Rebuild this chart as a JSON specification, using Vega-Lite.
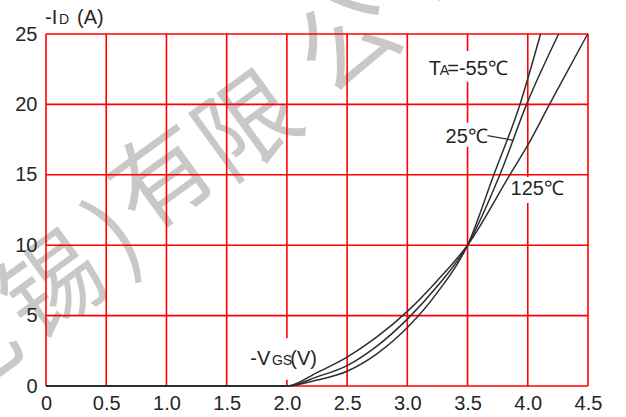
{
  "$schema": "https://vega.github.io/schema/vega-lite/v6.json",
  "autosize": {"type": "none"},
  "width": 542,
  "height": 352,
  "padding": {"left": 46, "top": 34, "right": 38, "bottom": 31},
  "background": "white",
  "config": {"view": {"stroke": null}},
  "datasets": {
    "curves": [
      {"T": "-55", "v": 0, "i": 0}, {"T": "-55", "v": 2.0, "i": 0}, {"T": "-55", "v": 2.25, "i": 0.42}, {"T": "-55", "v": 2.5, "i": 1.05}, {"T": "-55", "v": 2.75, "i": 2.3}, {"T": "-55", "v": 3.0, "i": 4.15}, {"T": "-55", "v": 3.25, "i": 6.65}, {"T": "-55", "v": 3.5, "i": 10}, {"T": "-55", "v": 3.718, "i": 15}, {"T": "-55", "v": 3.935, "i": 20}, {"T": "-55", "v": 4.106, "i": 25},
      {"T": "25", "v": 0, "i": 0}, {"T": "25", "v": 2.0, "i": 0}, {"T": "25", "v": 2.25, "i": 0.65}, {"T": "25", "v": 2.5, "i": 1.45}, {"T": "25", "v": 2.75, "i": 2.85}, {"T": "25", "v": 3.0, "i": 4.75}, {"T": "25", "v": 3.25, "i": 7.1}, {"T": "25", "v": 3.5, "i": 10}, {"T": "25", "v": 3.768, "i": 15}, {"T": "25", "v": 3.99, "i": 20}, {"T": "25", "v": 4.256, "i": 25},
      {"T": "125", "v": 0, "i": 0}, {"T": "125", "v": 2.0, "i": 0}, {"T": "125", "v": 2.25, "i": 0.95}, {"T": "125", "v": 2.5, "i": 2.05}, {"T": "125", "v": 2.75, "i": 3.5}, {"T": "125", "v": 3.0, "i": 5.3}, {"T": "125", "v": 3.25, "i": 7.5}, {"T": "125", "v": 3.5, "i": 10}, {"T": "125", "v": 3.851, "i": 15}, {"T": "125", "v": 4.0, "i": 17.1}, {"T": "125", "v": 4.18, "i": 20}, {"T": "125", "v": 4.497, "i": 25}
    ],
    "vgrid": [{"v": 0}, {"v": 0.5}, {"v": 1.0}, {"v": 1.5}, {"v": 2.0}, {"v": 2.5}, {"v": 3.0}, {"v": 3.5}, {"v": 4.0}, {"v": 4.5}],
    "hgrid": [{"i": 0}, {"i": 5}, {"i": 10}, {"i": 15}, {"i": 20}, {"i": 25}],
    "gaps": [
      {"x1": 3.15, "x2": 3.9, "y1": 21.6, "y2": 23.8},
      {"x1": 3.3, "x2": 3.68, "y1": 17.0, "y2": 18.7},
      {"x1": 3.85, "x2": 4.33, "y1": 13.0, "y2": 14.85},
      {"x1": 1.68, "x2": 2.28, "y1": 0.45, "y2": 3.4}
    ],
    "watermark": [
      {"c": "无", "x": -0.632, "y": 2.2},
      {"c": "锡", "x": 0.075, "y": 6.83},
      {"c": ")", "x": 0.599, "y": 10.53},
      {"c": "有", "x": 0.989, "y": 14.44},
      {"c": "限", "x": 1.696, "y": 18.21},
      {"c": "公", "x": 2.527, "y": 24.25},
      {"c": "司", "x": 3.358, "y": 30.3}
    ],
    "mainText": [
      {"t": "-I", "x": -0.008, "y": 25.68},
      {"t": "(A)", "x": 0.258, "y": 25.68},
      {"t": "T", "x": 3.178, "y": 22.12},
      {"t": "=-55℃", "x": 3.331, "y": 22.12},
      {"t": "25℃", "x": 3.317, "y": 17.26},
      {"t": "125℃", "x": 3.857, "y": 13.58},
      {"t": "-V", "x": 1.696, "y": 1.49},
      {"t": "(V)", "x": 2.028, "y": 1.49}
    ],
    "subText": [
      {"t": "D", "x": 0.108, "y": 25.68},
      {"t": "A", "x": 3.269, "y": 22.12},
      {"t": "GS", "x": 1.876, "y": 1.49}
    ],
    "leader": [{"x1": 3.666, "y1": 17.78, "x2": 3.88, "y2": 17.45}]
  },
  "layer": [
    {
      "data": {"name": "watermark"},
      "mark": {"type": "text", "font": "Noto Sans CJK SC", "fontSize": 100, "fontWeight": "normal", "color": "#c8c8c8", "angle": -36, "align": "center", "baseline": "middle"},
      "encoding": {
        "x": {"field": "x", "type": "quantitative", "scale": {"domain": [0, 4.5], "nice": false, "zero": false}},
        "y": {"field": "y", "type": "quantitative", "scale": {"domain": [0, 25], "nice": false, "zero": false}},
        "text": {"field": "c"}
      }
    },
    {
      "data": {"name": "vgrid"},
      "mark": {"type": "rule", "color": "#ff0000", "strokeWidth": 1.6},
      "encoding": {
        "x": {"field": "v", "type": "quantitative", "scale": {"domain": [0, 4.5], "nice": false, "zero": false},
          "axis": {"values": [0, 0.5, 1, 1.5, 2, 2.5, 3, 3.5, 4, 4.5], "labelExpr": "datum.value === 0 ? '0' : format(datum.value, '.1f')", "title": null, "grid": false, "domain": false, "ticks": false, "labelFont": "Liberation Sans", "labelFontSize": 20, "labelColor": "#262626", "labelPadding": 7, "labelFlush": false, "labelOverlap": false, "zindex": 1}}
      }
    },
    {
      "data": {"name": "hgrid"},
      "mark": {"type": "rule", "color": "#ff0000", "strokeWidth": 1.6},
      "encoding": {
        "y": {"field": "i", "type": "quantitative", "scale": {"domain": [0, 25], "nice": false, "zero": false},
          "axis": {"values": [0, 5, 10, 15, 20, 25], "title": null, "grid": false, "domain": false, "ticks": false, "labelFont": "Liberation Sans", "labelFontSize": 20, "labelColor": "#262626", "labelPadding": 9, "labelFlush": false, "labelOverlap": false, "zindex": 1}}
      }
    },
    {
      "data": {"name": "gaps"},
      "mark": {"type": "rect", "color": "white"},
      "encoding": {
        "x": {"field": "x1", "type": "quantitative", "scale": {"domain": [0, 4.5], "nice": false, "zero": false}},
        "x2": {"field": "x2"},
        "y": {"field": "y1", "type": "quantitative", "scale": {"domain": [0, 25], "nice": false, "zero": false}},
        "y2": {"field": "y2"}
      }
    },
    {
      "data": {"name": "curves"},
      "mark": {"type": "line", "color": "#2b2e33", "strokeWidth": 1.5, "interpolate": "monotone"},
      "encoding": {
        "x": {"field": "v", "type": "quantitative", "scale": {"domain": [0, 4.5], "nice": false, "zero": false}},
        "y": {"field": "i", "type": "quantitative", "scale": {"domain": [0, 25], "nice": false, "zero": false}},
        "detail": {"field": "T"}
      }
    },
    {
      "data": {"name": "leader"},
      "mark": {"type": "rule", "color": "#2b2e33", "strokeWidth": 1.2},
      "encoding": {
        "x": {"field": "x1", "type": "quantitative", "scale": {"domain": [0, 4.5], "nice": false, "zero": false}},
        "x2": {"field": "x2"},
        "y": {"field": "y1", "type": "quantitative", "scale": {"domain": [0, 25], "nice": false, "zero": false}},
        "y2": {"field": "y2"}
      }
    },
    {
      "data": {"name": "mainText"},
      "mark": {"type": "text", "font": "Liberation Sans", "fontSize": 20, "color": "#262626", "align": "left", "baseline": "alphabetic"},
      "encoding": {
        "x": {"field": "x", "type": "quantitative", "scale": {"domain": [0, 4.5], "nice": false, "zero": false}},
        "y": {"field": "y", "type": "quantitative", "scale": {"domain": [0, 25], "nice": false, "zero": false}},
        "text": {"field": "t"}
      }
    },
    {
      "data": {"name": "subText"},
      "mark": {"type": "text", "font": "Liberation Sans", "fontSize": 14, "color": "#262626", "align": "left", "baseline": "alphabetic"},
      "encoding": {
        "x": {"field": "x", "type": "quantitative", "scale": {"domain": [0, 4.5], "nice": false, "zero": false}},
        "y": {"field": "y", "type": "quantitative", "scale": {"domain": [0, 25], "nice": false, "zero": false}},
        "text": {"field": "t"}
      }
    }
  ]
}
